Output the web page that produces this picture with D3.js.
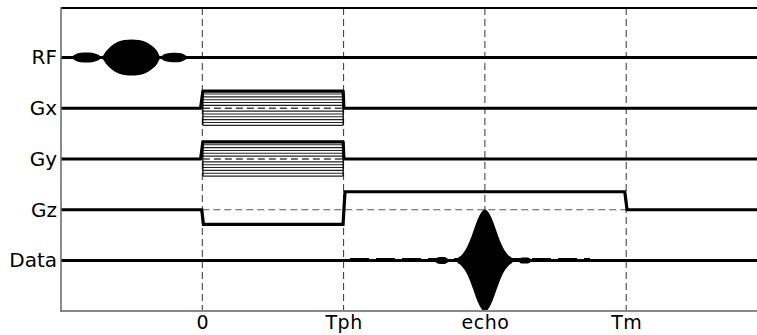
<!DOCTYPE html>
<html><head><meta charset="utf-8">
<script src="https://cdn.jsdelivr.net/npm/d3@7"></script>
<style>body{margin:0;background:#fff}svg{display:block}</style>
</head><body>
<svg id="c" width="757" height="335"></svg>
<script>
// ---------------- data ----------------
const rows = ["RF", "Gx", "Gy", "Gz", "Data"];
const tickTimes = [0, 1, 2, 3];
const tickLabels = ["0", "Tph", "echo", "Tm"];

// RF pulse envelope (time, amplitude)
const rfT = [-0.93, -0.90, -0.86, -0.82, -0.78, -0.74, -0.712, -0.68, -0.64, -0.60, -0.55, -0.50, -0.45, -0.40, -0.36, -0.32, -0.297, -0.27, -0.23, -0.19, -0.15, -0.12, -0.10];
const rfA = [0, 0.16, 0.26, 0.28, 0.26, 0.16, 0.05, 0.36, 0.66, 0.86, 0.97, 1.0, 0.97, 0.86, 0.66, 0.36, 0.05, 0.18, 0.25, 0.27, 0.23, 0.13, 0];

// phase-encode gradient table (Gx, Gy)
const phaseLevels = [0.95, 0.79, 0.63, 0.47, 0.32, 0.16, -0.16, -0.32, -0.47, -0.63, -0.79, -0.95];
const gradT = [-1, -0.012, 0.004, 0.997, 1.002, 4];
const gradA = [0, 0, 0.95, 0.95, 0, 0];

// slice/readout gradient Gz
const gzT = [-1, -0.004, 0.008, 0.996, 1.01, 2.99, 3.006, 4];
const gzA = [0, 0, -0.81, -0.81, 1.0, 1.0, 0, 0];

// echo envelope
const echoT = [1.64, 1.67, 1.71, 1.75, 1.78, 1.80, 1.809, 1.83, 1.851, 1.873, 1.894, 1.915, 1.936, 1.958, 1.979, 2.0, 2.021, 2.042, 2.064, 2.085, 2.106, 2.127, 2.149, 2.17, 2.191, 2.20, 2.23, 2.26, 2.30, 2.34];
const echoA = [0, 0.18, 0.2, 0.05, 0, 0.05, 0.14, 0.26, 0.46, 0.74, 1.11, 1.56, 2.03, 2.44, 2.72, 2.83, 2.72, 2.44, 2.03, 1.56, 1.11, 0.74, 0.46, 0.26, 0.14, 0.05, 0.03, 0.17, 0.17, 0];
const noiseRange = [1.045, 2.744];

// ---------------- drawing ----------------
const svg = d3.select("#c");
const frameTop = 8, frameBottom = 311, frameLeft = 61;
const x = d3.scaleLinear().domain([-1, 4]).range([frameLeft, 767.5]);
const y = d3.scalePoint().domain(rows).range([57.5, 260.5]);
const amp = d3.scaleLinear().domain([0, 1]).range([0, 18]);

const font = "'DejaVu Sans', Verdana, sans-serif";

// vertical dashed time markers
svg.append("g").selectAll("line").data(tickTimes).join("line")
  .attr("x1", d => x(d)).attr("x2", d => x(d))
  .attr("y1", frameTop).attr("y2", frameBottom)
  .attr("stroke", "#333").attr("stroke-width", 1).attr("stroke-dasharray", "7,4");

// gradient stripes for Gx, Gy
["Gx", "Gy"].forEach(r => {
  const g = svg.append("g");
  g.selectAll("line.s").data(phaseLevels).join("line")
    .attr("x1", x(0.004)).attr("x2", x(0.997))
    .attr("y1", d => y(r) - amp(d)).attr("y2", d => y(r) - amp(d))
    .attr("stroke", "#222").attr("stroke-width", 1.1);
  [0.004, 0.997].forEach(t => {
    g.append("line").attr("x1", x(t)).attr("x2", x(t))
      .attr("y1", y(r) - amp(0.95)).attr("y2", y(r) + amp(0.95))
      .attr("stroke", "#000").attr("stroke-width", 1.3);
  });
  g.append("line").attr("x1", x(0.004)).attr("x2", x(0.997))
    .attr("y1", y(r)).attr("y2", y(r))
    .attr("stroke", "#444").attr("stroke-width", 1.3).attr("stroke-dasharray", "7,4");
  const line = d3.line().x(d => x(d[0])).y(d => y(r) - amp(d[1]));
  g.append("path").attr("d", line(d3.zip(gradT, gradA)))
    .attr("fill", "none").attr("stroke", "#000").attr("stroke-width", 3.2)
    .attr("stroke-linejoin", "round");
});

// Gz
svg.append("line").attr("x1", x(0)).attr("x2", x(3))
  .attr("y1", y("Gz")).attr("y2", y("Gz"))
  .attr("stroke", "#555").attr("stroke-width", 1).attr("stroke-dasharray", "7,4");
svg.append("path")
  .attr("d", d3.line().x(d => x(d[0])).y(d => y("Gz") - amp(d[1]))(d3.zip(gzT, gzA)))
  .attr("fill", "none").attr("stroke", "#000").attr("stroke-width", 3.2);

// RF baseline + pulse
svg.append("line").attr("x1", x(-1)).attr("x2", x(4))
  .attr("y1", y("RF")).attr("y2", y("RF")).attr("stroke", "#000").attr("stroke-width", 3.2);
svg.append("path")
  .attr("d", d3.area().x(d => x(d[0])).y0(d => y("RF") + amp(d[1])).y1(d => y("RF") - amp(d[1]))
    .curve(d3.curveMonotoneX)(d3.zip(rfT, rfA)))
  .attr("fill", "#000");

// Data baseline + noise + echo
svg.append("line").attr("x1", x(-1)).attr("x2", x(4))
  .attr("y1", y("Data")).attr("y2", y("Data")).attr("stroke", "#000").attr("stroke-width", 3.2);
svg.append("line").attr("x1", x(noiseRange[0])).attr("x2", x(noiseRange[1]))
  .attr("y1", y("Data") - 0.8).attr("y2", y("Data") - 0.8)
  .attr("stroke", "#000").attr("stroke-width", 3.4).attr("stroke-dasharray", "19,7");
svg.append("path")
  .attr("d", d3.area().x(d => x(d[0])).y0(d => y("Data") + amp(d[1])).y1(d => y("Data") - amp(d[1]))
    .curve(d3.curveMonotoneX)(d3.zip(echoT, echoA)))
  .attr("fill", "#000");

// frame
svg.append("line").attr("x1", frameLeft).attr("x2", 757).attr("y1", frameTop).attr("y2", frameTop)
  .attr("stroke", "#000").attr("stroke-width", 2);
svg.append("line").attr("x1", frameLeft).attr("x2", 757).attr("y1", frameBottom).attr("y2", frameBottom)
  .attr("stroke", "#888").attr("stroke-width", 2);
svg.append("line").attr("x1", frameLeft).attr("x2", frameLeft).attr("y1", frameTop - 1).attr("y2", frameBottom + 1)
  .attr("stroke", "#666").attr("stroke-width", 1.5);

// axes (labels only)
const xAxis = d3.axisBottom(x).tickValues(tickTimes).tickFormat((d, i) => tickLabels[i]).tickSize(0).tickPadding(5);
const gx = svg.append("g").attr("transform", `translate(0,${frameBottom})`).call(xAxis);
gx.select(".domain").remove();
gx.selectAll("text").attr("font-family", font).attr("font-size", 19).attr("letter-spacing", 0.5).attr("fill", "#000");

const yAxis = d3.axisLeft(y).tickSize(0).tickPadding(4);
const gy = svg.append("g").attr("transform", `translate(${frameLeft},0)`).call(yAxis);
gy.select(".domain").remove();
gy.selectAll("text").attr("font-family", font).attr("font-size", 20).attr("fill", "#000");
</script>
</body></html>
